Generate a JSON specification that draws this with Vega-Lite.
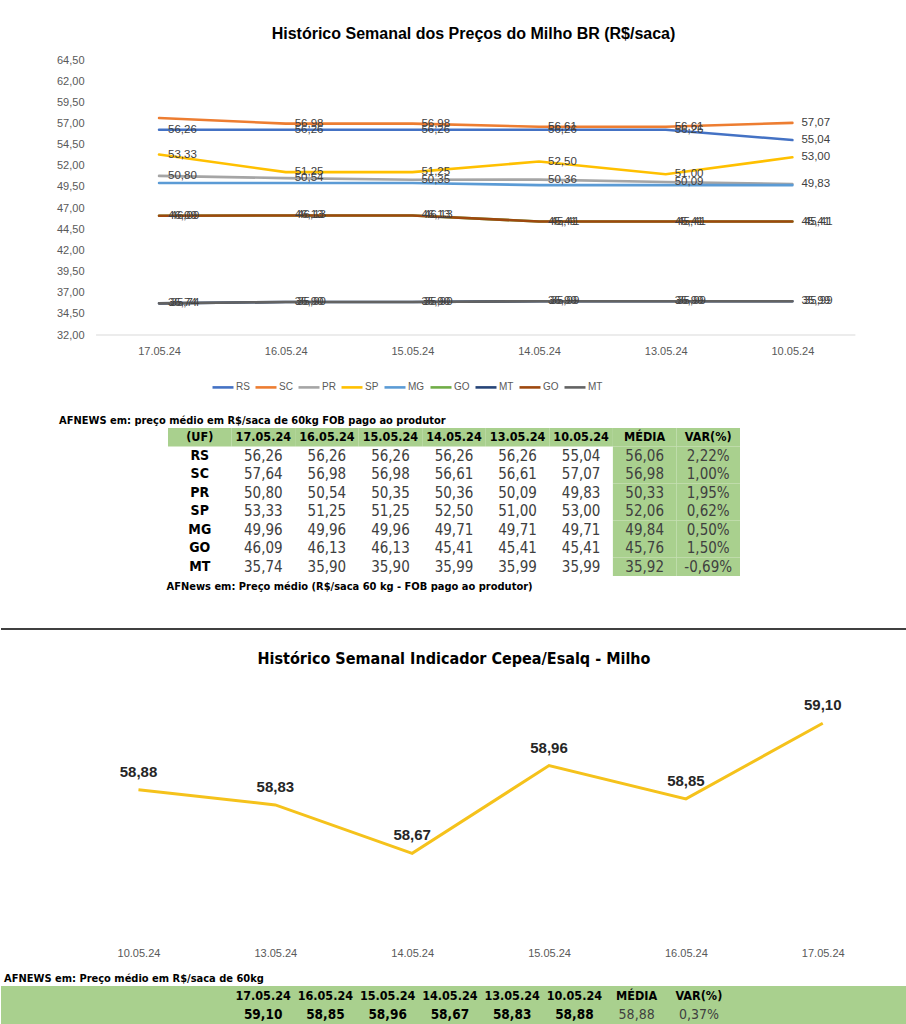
{
"$schema":"https://vega.github.io/schema/vega-lite/v6.json",
"background":"white",
"padding":{"left":0,"right":0,"top":26,"bottom":0},
"columns":1,
"align":"none",
"spacing":0,
"config":{
 "locale":{"number":{"decimal":",","thousands":".","grouping":[3],"currency":["R$",""],"minus":"-"}},
 "view":{"stroke":null},
 "font":"Liberation Sans",
 "concat":{"spacing":0},
 "title":{"color":"#000000","fontWeight":"bold"}
},
"datasets":{
 "serie":[
  {"s":"1 RS","d":"17.05.24","v":56.26},{"s":"1 RS","d":"16.05.24","v":56.26},{"s":"1 RS","d":"15.05.24","v":56.26},{"s":"1 RS","d":"14.05.24","v":56.26},{"s":"1 RS","d":"13.05.24","v":56.26},{"s":"1 RS","d":"10.05.24","v":55.04},
  {"s":"2 SC","d":"17.05.24","v":57.64},{"s":"2 SC","d":"16.05.24","v":56.98},{"s":"2 SC","d":"15.05.24","v":56.98},{"s":"2 SC","d":"14.05.24","v":56.61},{"s":"2 SC","d":"13.05.24","v":56.61},{"s":"2 SC","d":"10.05.24","v":57.07},
  {"s":"3 PR","d":"17.05.24","v":50.80},{"s":"3 PR","d":"16.05.24","v":50.54},{"s":"3 PR","d":"15.05.24","v":50.35},{"s":"3 PR","d":"14.05.24","v":50.36},{"s":"3 PR","d":"13.05.24","v":50.09},{"s":"3 PR","d":"10.05.24","v":49.83},
  {"s":"4 SP","d":"17.05.24","v":53.33},{"s":"4 SP","d":"16.05.24","v":51.25},{"s":"4 SP","d":"15.05.24","v":51.25},{"s":"4 SP","d":"14.05.24","v":52.50},{"s":"4 SP","d":"13.05.24","v":51.00},{"s":"4 SP","d":"10.05.24","v":53.00},
  {"s":"5 MG","d":"17.05.24","v":49.96},{"s":"5 MG","d":"16.05.24","v":49.96},{"s":"5 MG","d":"15.05.24","v":49.96},{"s":"5 MG","d":"14.05.24","v":49.71},{"s":"5 MG","d":"13.05.24","v":49.71},{"s":"5 MG","d":"10.05.24","v":49.71},
  {"s":"6 GO","d":"17.05.24","v":46.09},{"s":"6 GO","d":"16.05.24","v":46.13},{"s":"6 GO","d":"15.05.24","v":46.13},{"s":"6 GO","d":"14.05.24","v":45.41},{"s":"6 GO","d":"13.05.24","v":45.41},{"s":"6 GO","d":"10.05.24","v":45.41},
  {"s":"7 MT","d":"17.05.24","v":35.74},{"s":"7 MT","d":"16.05.24","v":35.90},{"s":"7 MT","d":"15.05.24","v":35.90},{"s":"7 MT","d":"14.05.24","v":35.99},{"s":"7 MT","d":"13.05.24","v":35.99},{"s":"7 MT","d":"10.05.24","v":35.99},
  {"s":"8 GO","d":"17.05.24","v":46.09},{"s":"8 GO","d":"16.05.24","v":46.13},{"s":"8 GO","d":"15.05.24","v":46.13},{"s":"8 GO","d":"14.05.24","v":45.41},{"s":"8 GO","d":"13.05.24","v":45.41},{"s":"8 GO","d":"10.05.24","v":45.41},
  {"s":"9 MT","d":"17.05.24","v":35.74},{"s":"9 MT","d":"16.05.24","v":35.90},{"s":"9 MT","d":"15.05.24","v":35.90},{"s":"9 MT","d":"14.05.24","v":35.99},{"s":"9 MT","d":"13.05.24","v":35.99},{"s":"9 MT","d":"10.05.24","v":35.99}
 ],
 "cols1":[{"c":"(UF)"},{"c":"17.05.24"},{"c":"16.05.24"},{"c":"15.05.24"},{"c":"14.05.24"},{"c":"13.05.24"},{"c":"10.05.24"},{"c":"MÉDIA"},{"c":"VAR(%)"}],
 "uf":[
  {"uf":"RS","d":"17.05.24","v":56.26},{"uf":"RS","d":"16.05.24","v":56.26},{"uf":"RS","d":"15.05.24","v":56.26},{"uf":"RS","d":"14.05.24","v":56.26},{"uf":"RS","d":"13.05.24","v":56.26},{"uf":"RS","d":"10.05.24","v":55.04},{"uf":"RS","d":"MÉDIA","v":56.06},{"uf":"RS","d":"VAR(%)","v":0.0222},
  {"uf":"SC","d":"17.05.24","v":57.64},{"uf":"SC","d":"16.05.24","v":56.98},{"uf":"SC","d":"15.05.24","v":56.98},{"uf":"SC","d":"14.05.24","v":56.61},{"uf":"SC","d":"13.05.24","v":56.61},{"uf":"SC","d":"10.05.24","v":57.07},{"uf":"SC","d":"MÉDIA","v":56.98},{"uf":"SC","d":"VAR(%)","v":0.0100},
  {"uf":"PR","d":"17.05.24","v":50.80},{"uf":"PR","d":"16.05.24","v":50.54},{"uf":"PR","d":"15.05.24","v":50.35},{"uf":"PR","d":"14.05.24","v":50.36},{"uf":"PR","d":"13.05.24","v":50.09},{"uf":"PR","d":"10.05.24","v":49.83},{"uf":"PR","d":"MÉDIA","v":50.33},{"uf":"PR","d":"VAR(%)","v":0.0195},
  {"uf":"SP","d":"17.05.24","v":53.33},{"uf":"SP","d":"16.05.24","v":51.25},{"uf":"SP","d":"15.05.24","v":51.25},{"uf":"SP","d":"14.05.24","v":52.50},{"uf":"SP","d":"13.05.24","v":51.00},{"uf":"SP","d":"10.05.24","v":53.00},{"uf":"SP","d":"MÉDIA","v":52.06},{"uf":"SP","d":"VAR(%)","v":0.0062},
  {"uf":"MG","d":"17.05.24","v":49.96},{"uf":"MG","d":"16.05.24","v":49.96},{"uf":"MG","d":"15.05.24","v":49.96},{"uf":"MG","d":"14.05.24","v":49.71},{"uf":"MG","d":"13.05.24","v":49.71},{"uf":"MG","d":"10.05.24","v":49.71},{"uf":"MG","d":"MÉDIA","v":49.84},{"uf":"MG","d":"VAR(%)","v":0.0050},
  {"uf":"GO","d":"17.05.24","v":46.09},{"uf":"GO","d":"16.05.24","v":46.13},{"uf":"GO","d":"15.05.24","v":46.13},{"uf":"GO","d":"14.05.24","v":45.41},{"uf":"GO","d":"13.05.24","v":45.41},{"uf":"GO","d":"10.05.24","v":45.41},{"uf":"GO","d":"MÉDIA","v":45.76},{"uf":"GO","d":"VAR(%)","v":0.0150},
  {"uf":"MT","d":"17.05.24","v":35.74},{"uf":"MT","d":"16.05.24","v":35.90},{"uf":"MT","d":"15.05.24","v":35.90},{"uf":"MT","d":"14.05.24","v":35.99},{"uf":"MT","d":"13.05.24","v":35.99},{"uf":"MT","d":"10.05.24","v":35.99},{"uf":"MT","d":"MÉDIA","v":35.92},{"uf":"MT","d":"VAR(%)","v":-0.0069}
 ],
 "cepea":[
  {"d":"17.05.24","v":59.10},{"d":"16.05.24","v":58.85},{"d":"15.05.24","v":58.96},{"d":"14.05.24","v":58.67},{"d":"13.05.24","v":58.83},{"d":"10.05.24","v":58.88},{"d":"MÉDIA","v":58.88},{"d":"VAR(%)","v":0.0037}
 ]
},
"concat":[
 {
  "width":855,"height":275,
  "title":{"text":"Histórico Semanal dos Preços do Milho BR (R$/saca)","fontSize":16,"font":"Liberation Sans","anchor":"middle","frame":"group","offset":12,"dx":45},
  "data":{"name":"serie"},
  "encoding":{
   "x":{"field":"d","type":"ordinal","scale":{"type":"point","padding":0.875,"align":0.713,"domain":["17.05.24","16.05.24","15.05.24","14.05.24","13.05.24","10.05.24"]},
        "axis":{"title":null,"labelAngle":0,"ticks":false,"domain":false,"labelColor":"#595959","labelFontSize":11,"labelPadding":10,"grid":false}},
   "y":{"field":"v","type":"quantitative","scale":{"domain":[32,64.5],"zero":false,"nice":false},
        "axis":{"title":null,"values":[32,34.5,37,39.5,42,44.5,47,49.5,52,54.5,57,59.5,62,64.5],"format":".2f","ticks":false,"domain":false,"grid":false,"labelColor":"#595959","labelFontSize":11,"labelPadding":12,"offset":-95}}
  },
  "layer":[
   {"data":{"values":[{"base":32}]},"mark":{"type":"rule","color":"#D9D9D9","strokeWidth":1,"xOffset":-63,"x2Offset":63},
    "encoding":{"y":{"field":"base","type":"quantitative"},"x":{"datum":"17.05.24","type":"ordinal"},"x2":{"datum":"10.05.24"}}},
   {"mark":{"type":"line","strokeWidth":2.6,"strokeCap":"round"},
    "encoding":{"color":{"field":"s","type":"nominal",
      "scale":{"domain":["1 RS","2 SC","3 PR","4 SP","5 MG","6 GO","7 MT","8 GO","9 MT"],"range":["#4472C4","#ED7D31","#A5A5A5","#FFC000","#5B9BD5","#70AD47","#264478","#9E480E","#636363"]},
      "legend":{"orient":"none","legendX":210,"legendY":315,"direction":"horizontal","title":null,"symbolType":"stroke","symbolSize":441,"symbolStrokeWidth":2.6,"labelFontSize":10,"labelColor":"#595959","labelOffset":1,"columnPadding":0,"labelExpr":"slice(datum.label,2)"}}}},
   {"transform":[{"filter":"datum.s !== '5 MG' && datum.s !== '6 GO' && datum.s !== '7 MT' && !(datum.s === '2 SC' && datum.d === '17.05.24')"}],
    "mark":{"type":"text","align":"left","baseline":"middle","dx":9,"fontSize":11.5,"color":"#404040"},
    "encoding":{"text":{"field":"v","format":".2f"}}},
   {"transform":[{"filter":"datum.s === '6 GO' || datum.s === '7 MT'"}],
    "mark":{"type":"text","align":"left","baseline":"middle","dx":11.5,"fontSize":11.5,"color":"#404040"},
    "encoding":{"text":{"field":"v","format":".2f"}}}
  ]
 },
 {"width":906,"height":59,"data":{"values":[]},"mark":"point"},
 {
  "width":906,"height":148,
  "title":{"text":"AFNEWS em: preço médio em R$/saca de 60kg FOB pago ao produtor","anchor":"start","dx":58,"font":"Liberation Sans Narrow, Arial Narrow, DejaVu Sans Condensed, sans-serif","fontSize":11,"offset":2},
  "layer":[
   {"data":{"name":"cols1"},"mark":{"type":"rect","color":"#A9D08E"},
    "encoding":{
     "x":{"field":"c","type":"ordinal","scale":{"type":"band","domain":["(UF)","17.05.24","16.05.24","15.05.24","14.05.24","13.05.24","10.05.24","MÉDIA","VAR(%)"],"range":[167,739],"paddingInner":0,"paddingOuter":0},
          "axis":{"title":"AFNews em: Preço médio (R$/saca 60 kg - FOB pago ao produtor)","labels":false,"ticks":false,"domain":false,"titleAnchor":"start","titleAlign":"left","titleX":165,"titleFont":"Liberation Sans Narrow, Arial Narrow, DejaVu Sans Condensed, sans-serif","titleFontSize":11,"titleFontWeight":"bold","titleColor":"#000000","titlePadding":4}},
     "y":{"datum":"(UF)","type":"ordinal","scale":{"type":"band","domain":["(UF)","RS","SC","PR","SP","MG","GO","MT"],"paddingInner":0,"paddingOuter":0},"axis":null}}},
   {"data":{"name":"uf"},"transform":[{"filter":"datum.d === 'MÉDIA' || datum.d === 'VAR(%)'"}],"mark":{"type":"rect","color":"#A9D08E"},
    "encoding":{"x":{"field":"d","type":"ordinal"},"y":{"field":"uf","type":"ordinal"}}},
   {"data":{"name":"cols1"},"mark":{"type":"text","font":"Liberation Sans Narrow, Arial Narrow, DejaVu Sans Condensed, sans-serif","fontSize":12.5,"fontWeight":"bold","color":"#000000"},
    "encoding":{"x":{"field":"c","type":"ordinal"},"y":{"datum":"(UF)","type":"ordinal"},"text":{"field":"c"}}},
   {"data":{"name":"uf"},"transform":[{"filter":"datum.d === '17.05.24'"}],"mark":{"type":"text","font":"Liberation Sans Narrow, Arial Narrow, DejaVu Sans Condensed, sans-serif","fontSize":14,"fontWeight":"bold","color":"#000000"},
    "encoding":{"x":{"datum":"(UF)","type":"ordinal"},"y":{"field":"uf","type":"ordinal"},"text":{"field":"uf"}}},
   {"data":{"name":"uf"},"transform":[{"filter":"datum.d !== 'VAR(%)'"}],"mark":{"type":"text","font":"Liberation Sans Narrow, Arial Narrow, DejaVu Sans Condensed, sans-serif","fontSize":15,"color":"#404040"},
    "encoding":{"x":{"field":"d","type":"ordinal"},"y":{"field":"uf","type":"ordinal"},"text":{"field":"v","format":".2f"}}},
   {"data":{"name":"uf"},"transform":[{"filter":"datum.d === 'VAR(%)'"}],"mark":{"type":"text","font":"Liberation Sans Narrow, Arial Narrow, DejaVu Sans Condensed, sans-serif","fontSize":15,"color":"#404040"},
    "encoding":{"x":{"field":"d","type":"ordinal"},"y":{"field":"uf","type":"ordinal"},"text":{"field":"v","format":".2%"}}}
  ]
 },
 {"width":906,"height":37,"data":{"values":[]},"mark":"point"},
 {"width":906,"height":22,"data":{"values":[{"k":1}]},"mark":{"type":"rule","color":"#404040","strokeWidth":2},
  "encoding":{"y":{"field":"k","type":"quantitative","scale":{"domain":[0,1]},"axis":null}}},
 {
  "width":906,"height":242,
  "title":{"text":"Histórico Semanal Indicador Cepea/Esalq - Milho","fontSize":16,"font":"Liberation Sans Narrow, Arial Narrow, DejaVu Sans Condensed, sans-serif","anchor":"middle","frame":"group","offset":26},
  "data":{"name":"cepea"},
  "transform":[{"filter":"datum.d !== 'MÉDIA' && datum.d !== 'VAR(%)'"}],
  "encoding":{
   "x":{"field":"d","type":"ordinal","scale":{"type":"point","domain":["10.05.24","13.05.24","14.05.24","15.05.24","16.05.24","17.05.24"],"padding":0.81,"align":0.62},
        "axis":{"title":null,"labelAngle":0,"ticks":false,"domain":false,"grid":false,"labelColor":"#595959","labelFontSize":11,"labelPadding":12}},
   "y":{"field":"v","type":"quantitative","scale":{"domain":[58.4,59.2],"zero":false,"nice":false},"axis":null}
  },
  "layer":[
   {"mark":{"type":"line","color":"#F5C21B","strokeWidth":3}},
   {"mark":{"type":"text","dy":-18,"fontSize":15,"fontWeight":"bold","color":"#262626"},"encoding":{"text":{"field":"v","format":".2f"}}}
  ]
 },
 {"width":906,"height":15,"data":{"values":[]},"mark":"point"},
 {
  "width":906,"height":38,"view":{"fill":"#A9D08E"},
  "title":{"text":"AFNEWS em: Preço médio em R$/saca de 60kg","anchor":"start","dx":3,"font":"Liberation Sans Narrow, Arial Narrow, DejaVu Sans Condensed, sans-serif","fontSize":11,"offset":2},
  "data":{"name":"cepea"},
  "layer":[
   {"mark":{"type":"text","font":"Liberation Sans Narrow, Arial Narrow, DejaVu Sans Condensed, sans-serif","fontSize":12.5,"fontWeight":"bold","color":"#000000"},
    "encoding":{
     "x":{"field":"d","type":"ordinal","scale":{"type":"band","domain":["17.05.24","16.05.24","15.05.24","14.05.24","13.05.24","10.05.24","MÉDIA","VAR(%)"],"range":[231,729],"paddingInner":0,"paddingOuter":0},"axis":null},
     "y":{"datum":"h","type":"ordinal","scale":{"type":"band","domain":["h","v"],"paddingInner":0,"paddingOuter":0},"axis":null},
     "text":{"field":"d"}}},
   {"transform":[{"filter":"datum.d !== 'MÉDIA' && datum.d !== 'VAR(%)'"}],"mark":{"type":"text","font":"Liberation Sans Narrow, Arial Narrow, DejaVu Sans Condensed, sans-serif","fontSize":13.5,"fontWeight":"bold","color":"#000000"},
    "encoding":{"x":{"field":"d","type":"ordinal"},"y":{"datum":"v","type":"ordinal"},"text":{"field":"v","format":".2f"}}},
   {"transform":[{"filter":"datum.d === 'MÉDIA'"}],"mark":{"type":"text","font":"Liberation Sans Narrow, Arial Narrow, DejaVu Sans Condensed, sans-serif","fontSize":14,"color":"#404040"},
    "encoding":{"x":{"field":"d","type":"ordinal"},"y":{"datum":"v","type":"ordinal"},"text":{"field":"v","format":".2f"}}},
   {"transform":[{"filter":"datum.d === 'VAR(%)'"}],"mark":{"type":"text","font":"Liberation Sans Narrow, Arial Narrow, DejaVu Sans Condensed, sans-serif","fontSize":14,"color":"#404040"},
    "encoding":{"x":{"field":"d","type":"ordinal"},"y":{"datum":"v","type":"ordinal"},"text":{"field":"v","format":".2%"}}}
  ]
 }
]
}
